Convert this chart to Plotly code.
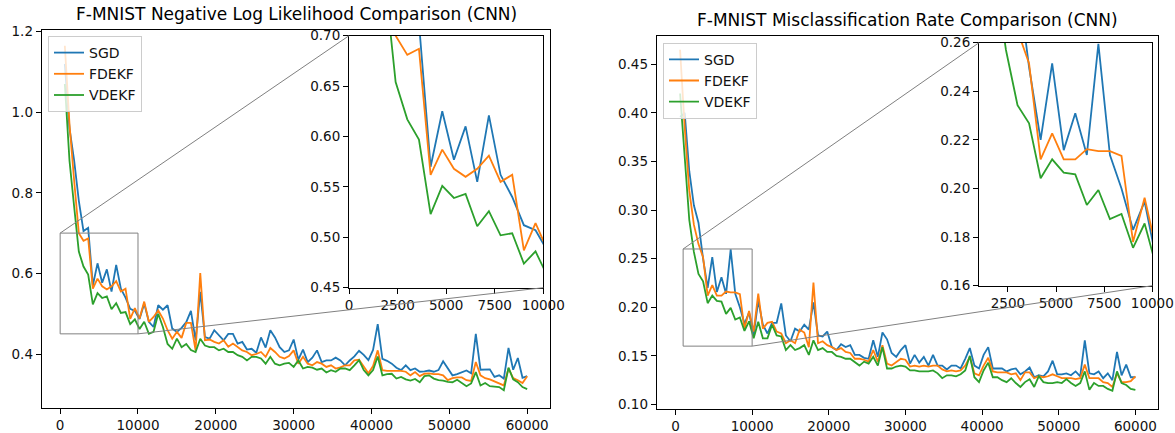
import plotly.graph_objects as go

# ---------------- data ----------------
steps = list(range(600, 60001, 600))
series_names = ["SGD", "FDEKF", "VDEKF"]
colors = ["#1f77b4", "#ff7f0e", "#2ca02c"]

nll_sgd = [
    1.12, 0.96, 0.88, 0.78, 0.705, 0.713, 0.570, 0.625, 0.577, 0.610,
    0.555, 0.621, 0.562, 0.540, 0.512, 0.507, 0.487, 0.525, 0.480, 0.467,
    0.521, 0.510, 0.521, 0.463, 0.455, 0.465, 0.479, 0.507, 0.434, 0.554,
    0.442, 0.438, 0.459, 0.446, 0.434, 0.450, 0.450, 0.426, 0.430, 0.411,
    0.413, 0.403, 0.441, 0.416, 0.459, 0.441, 0.417, 0.405, 0.409, 0.436,
    0.386, 0.411, 0.380, 0.391, 0.409, 0.380, 0.384, 0.384, 0.391, 0.384,
    0.372, 0.384, 0.394, 0.408, 0.398, 0.385, 0.410, 0.474, 0.388, 0.383,
    0.376, 0.366, 0.360, 0.372, 0.360, 0.364, 0.356, 0.357, 0.359, 0.356,
    0.360, 0.382, 0.366, 0.347, 0.350, 0.354, 0.359, 0.352, 0.450, 0.361,
    0.362, 0.362, 0.343, 0.347, 0.339, 0.415, 0.361, 0.390, 0.341, 0.345,
]
nll_fdekf = [
    1.165, 0.97, 0.83, 0.70, 0.681, 0.687, 0.562, 0.587, 0.568, 0.560,
    0.568, 0.581, 0.555, 0.562, 0.487, 0.514, 0.488, 0.530, 0.480, 0.492,
    0.508, 0.488, 0.459, 0.438, 0.455, 0.440, 0.477, 0.477, 0.409, 0.601,
    0.434, 0.436, 0.430, 0.426, 0.434, 0.418, 0.426, 0.418, 0.409, 0.405,
    0.397, 0.400, 0.405, 0.393, 0.415, 0.405, 0.393, 0.389, 0.395, 0.409,
    0.376, 0.393, 0.376, 0.372, 0.380, 0.376, 0.368, 0.372, 0.364, 0.367,
    0.372, 0.372, 0.384, 0.386, 0.370, 0.352, 0.370, 0.409, 0.360, 0.358,
    0.358, 0.358, 0.358, 0.356, 0.347, 0.355, 0.345, 0.351, 0.352, 0.350,
    0.350, 0.347, 0.335, 0.340, 0.342, 0.342, 0.335, 0.333, 0.380, 0.347,
    0.340, 0.337, 0.332, 0.326, 0.322, 0.364, 0.340, 0.335, 0.328, 0.345,
]
nll_vdekf = [
    1.07, 0.88, 0.765, 0.654, 0.617, 0.597, 0.523, 0.551, 0.539, 0.543,
    0.511, 0.526, 0.502, 0.504, 0.474, 0.486, 0.462, 0.480, 0.450, 0.455,
    0.500, 0.467, 0.425, 0.413, 0.438, 0.417, 0.425, 0.410, 0.405, 0.438,
    0.421, 0.417, 0.417, 0.409, 0.413, 0.405, 0.405, 0.397, 0.393, 0.384,
    0.393, 0.393, 0.389, 0.376, 0.393, 0.376, 0.372, 0.376, 0.378, 0.368,
    0.384, 0.364, 0.368, 0.366, 0.361, 0.364, 0.354, 0.360, 0.356, 0.364,
    0.364, 0.360, 0.372, 0.385, 0.360, 0.347, 0.360, 0.394, 0.347, 0.350,
    0.351, 0.339, 0.343, 0.337, 0.334, 0.338, 0.330, 0.345, 0.347, 0.339,
    0.335, 0.334, 0.331, 0.330, 0.336, 0.327, 0.320, 0.327, 0.355, 0.322,
    0.328, 0.320, 0.319, 0.318, 0.310, 0.366, 0.337, 0.330, 0.318, 0.313,
]

err_sgd = [
    0.396, 0.400, 0.340, 0.305, 0.287, 0.250, 0.220, 0.2515, 0.2158, 0.231,
    0.2138, 0.2595, 0.2138, 0.200, 0.183, 0.1946, 0.171, 0.207, 0.182, 0.173,
    0.184, 0.184, 0.204, 0.171, 0.165, 0.178, 0.175, 0.182, 0.177, 0.205,
    0.171, 0.170, 0.175, 0.159, 0.156, 0.162, 0.159, 0.161, 0.151, 0.151,
    0.148, 0.147, 0.166, 0.149, 0.174, 0.167, 0.153, 0.149, 0.156, 0.161,
    0.142, 0.151, 0.143, 0.149, 0.140, 0.151, 0.140, 0.140, 0.136, 0.140,
    0.140, 0.137, 0.147, 0.158, 0.140, 0.137, 0.151, 0.159, 0.137, 0.137,
    0.137, 0.134, 0.136, 0.137, 0.131, 0.134, 0.138, 0.128, 0.130, 0.129,
    0.134, 0.145, 0.131, 0.131, 0.132, 0.130, 0.134, 0.129, 0.166, 0.132,
    0.131, 0.134, 0.127, 0.132, 0.125, 0.154, 0.130, 0.141, 0.128, 0.128,
]
err_fdekf = [
    0.465, 0.385, 0.320, 0.285, 0.265, 0.2515, 0.212, 0.2227, 0.212, 0.212,
    0.2162, 0.2154, 0.2154, 0.2134, 0.178, 0.1962, 0.175, 0.214, 0.178, 0.184,
    0.185, 0.175, 0.173, 0.163, 0.166, 0.163, 0.177, 0.174, 0.159, 0.2255,
    0.163, 0.165, 0.161, 0.159, 0.156, 0.158, 0.154, 0.153, 0.147, 0.147,
    0.146, 0.144, 0.156, 0.144, 0.161, 0.142, 0.140, 0.144, 0.147, 0.146,
    0.139, 0.140, 0.139, 0.140, 0.139, 0.140, 0.140, 0.136, 0.134, 0.135,
    0.134, 0.135, 0.140, 0.149, 0.132, 0.130, 0.140, 0.148, 0.134, 0.133,
    0.133, 0.133, 0.131, 0.132, 0.125, 0.133, 0.133, 0.127, 0.129, 0.128,
    0.129, 0.131, 0.129, 0.127, 0.127, 0.127, 0.126, 0.127, 0.141, 0.127,
    0.127, 0.127, 0.123, 0.122, 0.118, 0.132, 0.123, 0.123, 0.124, 0.129,
]
err_vdekf = [
    0.420, 0.350, 0.290, 0.257, 0.2343, 0.2268, 0.2042, 0.212, 0.2065, 0.2058,
    0.1932, 0.1994, 0.1874, 0.1895, 0.1756, 0.1856, 0.168, 0.185, 0.168, 0.168,
    0.182, 0.171, 0.170, 0.156, 0.161, 0.156, 0.158, 0.161, 0.151, 0.166,
    0.156, 0.158, 0.154, 0.154, 0.150, 0.149, 0.147, 0.147, 0.143, 0.140,
    0.144, 0.142, 0.149, 0.140, 0.159, 0.137, 0.137, 0.139, 0.140, 0.139,
    0.135, 0.135, 0.134, 0.134, 0.134, 0.135, 0.132, 0.127, 0.130, 0.130,
    0.129, 0.131, 0.135, 0.150, 0.128, 0.123, 0.135, 0.143, 0.128, 0.128,
    0.125, 0.123, 0.127, 0.122, 0.118, 0.123, 0.126, 0.118, 0.129, 0.123,
    0.122, 0.122, 0.123, 0.122, 0.126, 0.122, 0.119, 0.122, 0.134, 0.115,
    0.122, 0.119, 0.119, 0.116, 0.114, 0.134, 0.122, 0.120, 0.116, 0.115,
]

titles = ["F-MNIST Negative Log Likelihood Comparison (CNN)",
          "F-MNIST Misclassification Rate Comparison (CNN)"]

main_xticks = [0, 10000, 20000, 30000, 40000, 50000, 60000]
nll_yticks = [0.4, 0.6, 0.8, 1.0, 1.2]
err_yticks = [0.10, 0.15, 0.20, 0.25, 0.30, 0.35, 0.40, 0.45]
nll_inset_xticks = [0, 2500, 5000, 7500, 10000]
nll_inset_yticks = [0.45, 0.50, 0.55, 0.60, 0.65, 0.70]
err_inset_xticks = [2500, 5000, 7500, 10000]
err_inset_yticks = [0.16, 0.18, 0.20, 0.22, 0.24, 0.26]

# zoom windows (x0, x1, y0, y1)
nll_zoom = (0, 10000, 0.45, 0.70)
err_zoom = (1000, 10000, 0.16, 0.26)

# ---------------- layout geometry (pixels) ----------------
W, H = 1175, 433
FONT = "DejaVu Sans"
TICK_SIZE = 13.5

def dom_x(a, b):
    return [a / W, b / W]

def dom_y(top, bottom):
    return [1 - bottom / H, 1 - top / H]

geom = {
    "ax1": (dom_x(41.7, 550.3), dom_y(30, 408), [-2370, 62970], [0.266, 1.204]),
    "ax2": (dom_x(656.7, 1158), dom_y(35.7, 409), [-2450, 62950], [0.0953, 0.4795]),
    "ax3": (dom_x(349, 543.3), dom_y(35.7, 287.7), [nll_zoom[0], nll_zoom[1]], [nll_zoom[2], nll_zoom[3]]),
    "ax4": (dom_x(979, 1152.3), dom_y(42.7, 285.7), [err_zoom[0], err_zoom[1]], [err_zoom[2], err_zoom[3]]),
}

def to_paper(ax, xv, yv):
    xd, yd, xr, yr = geom[ax]
    px = xd[0] + (xv - xr[0]) / (xr[1] - xr[0]) * (xd[1] - xd[0])
    py = yd[0] + (yv - yr[0]) / (yr[1] - yr[0]) * (yd[1] - yd[0])
    return px, py

fig = go.Figure()

nll_data = [nll_sgd, nll_fdekf, nll_vdekf]
err_data = [err_sgd, err_fdekf, err_vdekf]
LW = 1.8

for name, col, ys in zip(series_names, colors, nll_data):
    fig.add_trace(go.Scatter(x=steps, y=ys, mode="lines", name=name,
                             line=dict(color=col, width=LW),
                             xaxis="x", yaxis="y", legend="legend"))
for name, col, ys in zip(series_names, colors, err_data):
    fig.add_trace(go.Scatter(x=steps, y=ys, mode="lines", name=name,
                             line=dict(color=col, width=LW),
                             xaxis="x2", yaxis="y2", legend="legend2"))
for name, col, ys in zip(series_names, colors, nll_data):
    fig.add_trace(go.Scatter(x=steps, y=ys, mode="lines", name=name,
                             line=dict(color=col, width=LW), showlegend=False,
                             xaxis="x3", yaxis="y3"))
for name, col, ys in zip(series_names, colors, err_data):
    fig.add_trace(go.Scatter(x=steps, y=ys, mode="lines", name=name,
                             line=dict(color=col, width=LW), showlegend=False,
                             xaxis="x4", yaxis="y4"))

def axis(dom, rng, tickvals, ticktext, anchor):
    return dict(domain=dom, range=rng, tickvals=tickvals, ticktext=ticktext,
                anchor=anchor, automargin=False, showgrid=False, zeroline=False,
                showline=True, mirror=True, linecolor="black", linewidth=1,
                ticks="outside", ticklen=5, tickwidth=1, tickcolor="black",
                tickfont=dict(family=FONT, size=TICK_SIZE, color="#111"))

def fmt(vals, f):
    return [f.format(v) for v in vals]

xd, yd, xr, yr = geom["ax1"]
fig.update_layout(
    xaxis=axis(xd, xr, main_xticks, fmt(main_xticks, "{:d}"), "y"),
    yaxis=axis(yd, yr, nll_yticks, fmt(nll_yticks, "{:.1f}"), "x"),
)
xd, yd, xr, yr = geom["ax2"]
fig.update_layout(
    xaxis2=axis(xd, xr, main_xticks, fmt(main_xticks, "{:d}"), "y2"),
    yaxis2=axis(yd, yr, err_yticks, fmt(err_yticks, "{:.2f}"), "x2"),
)
xd, yd, xr, yr = geom["ax3"]
fig.update_layout(
    xaxis3=axis(xd, xr, nll_inset_xticks, fmt(nll_inset_xticks, "{:d}"), "y3"),
    yaxis3=axis(yd, yr, nll_inset_yticks, fmt(nll_inset_yticks, "{:.2f}"), "x3"),
)
xd, yd, xr, yr = geom["ax4"]
fig.update_layout(
    xaxis4=axis(xd, xr, err_inset_xticks, fmt(err_inset_xticks, "{:d}"), "y4"),
    yaxis4=axis(yd, yr, err_inset_yticks, fmt(err_inset_yticks, "{:.2f}"), "x4"),
)

# zoom rectangles and connector lines
grey = dict(color="#808080", width=1)
shapes = []
for main, ins, (zx0, zx1, zy0, zy1), xref, yref in [
        ("ax1", "ax3", nll_zoom, "x", "y"),
        ("ax2", "ax4", err_zoom, "x2", "y2")]:
    shapes.append(dict(type="rect", xref=xref, yref=yref, x0=zx0, x1=zx1,
                       y0=zy0, y1=zy1, line=grey, fillcolor="rgba(0,0,0,0)"))
    for cx, cy in [(zx0, zy1), (zx1, zy0)]:
        a = to_paper(main, cx, cy)
        b = to_paper(ins, cx, cy)
        shapes.append(dict(type="line", xref="paper", yref="paper",
                           x0=a[0], y0=a[1], x1=b[0], y1=b[1], line=grey))

annotations = [
    dict(text=titles[0], x=296 / W, y=1 - 14 / H, xref="paper", yref="paper",
         showarrow=False, xanchor="center", yanchor="middle",
         font=dict(family=FONT, size=17, color="black")),
    dict(text=titles[1], x=907 / W, y=1 - 20 / H, xref="paper", yref="paper",
         showarrow=False, xanchor="center", yanchor="middle",
         font=dict(family=FONT, size=17, color="black")),
]

legend_style = dict(bgcolor="rgba(255,255,255,0.8)", bordercolor="#cccccc",
                    borderwidth=1, font=dict(family=FONT, size=14, color="#111"),
                    xanchor="left", yanchor="top", tracegroupgap=0)

fig.update_layout(
    template="none",
    width=W, height=H,
    margin=dict(l=0, r=0, t=0, b=0, autoexpand=False),
    paper_bgcolor="white", plot_bgcolor="white",
    shapes=shapes, annotations=annotations,
    legend=dict(x=48 / W, y=1 - 36 / H, **legend_style),
    legend2=dict(x=663 / W, y=1 - 42.7 / H, **legend_style),
    font=dict(family=FONT),
)

fig.write_html(
    "out.html",
    config={"displayModeBar": False},
    post_script="document.body.style.margin='0';document.body.style.padding='0';",
)
